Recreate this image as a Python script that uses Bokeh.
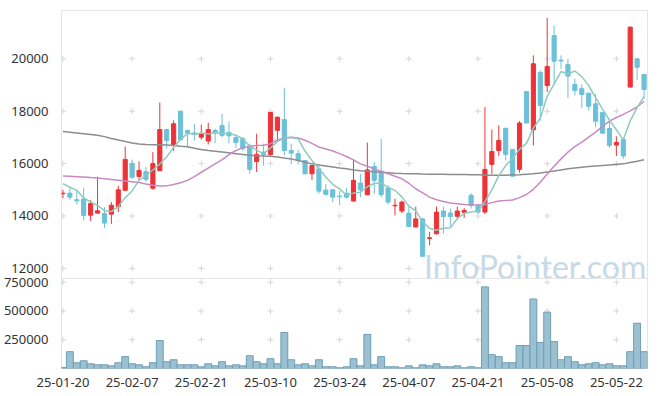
from bokeh.plotting import figure
from bokeh.models import Range1d, FixedTicker, ColumnDataSource, Span
from bokeh.core.properties import value
from bokeh.embed import file_html
from bokeh.resources import INLINE

# ---------------- data ----------------
date_labels = ["25-01-20", "25-02-07", "25-02-21", "25-03-10", "25-03-24",
               "25-04-07", "25-04-21", "25-05-08", "25-05-22"]
label_step = 10  # one label every 10 trading days

opens = [14850, 14870, 14620, 14650, 14030, 14110, 14100, 14070, 14360, 14980,
         16000, 15510, 15690, 15060, 15730, 17300, 16730, 18000, 17260, 17170,
         17010, 16860, 17260, 17450, 17190, 16990, 16960, 16680, 16080, 16440,
         16350, 17270, 17680, 16500, 16380, 16120, 15610, 15800, 14990, 15000,
         14760, 14870, 14570, 15260, 14810, 15890, 15710, 15060, 14390, 14190,
         14110, 13580, 13890, 13140, 13320, 14190, 14110, 13990, 14140, 14790,
         14380, 14150, 15970, 16500, 17350, 16540, 15780, 18750, 17290, 19480,
         18980, 20890, 19950, 19780, 19020, 18860, 18690, 18280, 17950, 17340,
         16710, 16920, 18920, 20000, 19400]
highs = [15000, 15100, 14950, 15080, 14600, 15500, 14330, 14530, 15150, 16650,
         16150, 16080, 15870, 16440, 18330, 17320, 17650, 18020, 17280, 17520,
         17490, 17560, 17330, 17900, 17610, 17070, 17010, 16760, 17140, 16760,
         17960, 17800, 18890, 16760, 16530, 16130, 15940, 15930, 15220, 15010,
         14950, 15070, 16150, 15610, 16800, 16060, 16950, 15170, 14660, 14590,
         14360, 14360, 13930, 13390, 14360, 14360, 14280, 14360, 14310, 14870,
         14460, 18160, 17300, 17460, 17360, 16550, 17620, 18760, 20130, 19560,
         21560, 21270, 20130, 20000, 19240, 19020, 18700, 18660, 17960, 17710,
         17040, 16930, 21220, 20010, 19410]
lows = [14680, 14620, 14440, 13830, 13810, 14080, 13540, 13700, 14150, 14950,
        15420, 15360, 15300, 15000, 15710, 16570, 16480, 16880, 16630, 16880,
        16910, 16730, 16780, 17010, 16780, 16600, 16480, 15610, 15680, 15920,
        16250, 16880, 16310, 15970, 15970, 15600, 15380, 14850, 14780, 14530,
        14400, 14660, 14560, 14720, 14800, 14850, 14720, 14440, 14020, 14110,
        13580, 13570, 12450, 12880, 13300, 13320, 13600, 13890, 13930, 14280,
        14080, 14080, 15610, 16290, 16120, 15510, 15650, 17540, 16690, 17640,
        18730, 19040, 19620, 18510, 18600, 18130, 18030, 17390, 17150, 16600,
        16290, 16180, 18910, 19200, 18470]
closes = [14870, 14720, 14580, 14020, 14480, 14200, 13730, 14410, 15000, 16160,
          15480, 15740, 15400, 16000, 17300, 16880, 17520, 16910, 17170, 17110,
          17140, 17300, 17180, 17080, 17060, 16810, 16580, 15780, 16350, 16350,
          17950, 17770, 16500, 16400, 16120, 15610, 15930, 14950, 14830, 14720,
          14740, 14720, 15360, 15000, 15760, 15360, 14820, 14530, 14410, 14530,
          13600, 13890, 12460, 13170, 14150, 13980, 13980, 14190, 14210, 14400,
          14150, 15780, 16460, 16880, 16350, 15520, 17550, 17550, 19810, 18220,
          19710, 19910, 19920, 19340, 18790, 18640, 18190, 17620, 17160, 16690,
          16810, 16290, 21210, 19680, 18830]
volumes = [10000, 146000, 50000, 67000, 41000, 32000, 32000, 23000, 50000, 103000,
           41000, 32000, 15000, 50000, 243000, 59000, 76000, 32000, 32000, 32000,
           15000, 41000, 23000, 59000, 23000, 32000, 23000, 111000, 59000, 41000,
           85000, 41000, 313000, 76000, 32000, 41000, 23000, 76000, 15000, 15000,
           6000, 15000, 85000, 23000, 296000, 32000, 103000, 15000, 15000, 6000,
           23000, 6000, 32000, 23000, 41000, 15000, 15000, 23000, 6000, 15000,
           6000, 709000, 120000, 103000, 50000, 50000, 199000, 199000, 604000, 226000,
           489000, 234000, 76000, 103000, 59000, 32000, 41000, 50000, 32000, 41000,
           23000, 23000, 146000, 393000, 146000]
ma5 = [15230, 15100, 14980, 14690, 14534, 14400, 14202, 14168, 14364, 14700,
       14956, 15358, 15556, 15756, 15984, 16264, 16620, 16922, 17156, 17118,
       17170, 17126, 17180, 17162, 17152, 17086, 16942, 16662, 16516, 16374,
       16602, 16840, 16984, 16994, 16948, 16480, 16112, 15802, 15488, 15208,
       15034, 14792, 14874, 14908, 15116, 15240, 15260, 15094, 14976, 14730,
       14378, 14192, 13778, 13530, 13454, 13530, 13548, 13894, 14102, 14152,
       14186, 14546, 15000, 15534, 15924, 16198, 16552, 16770, 17356, 17730,
       18568, 19040, 19514, 19420, 19534, 19320, 18976, 18516, 18080, 17660,
       17294, 16914, 17634, 18138, 18566]
ma20 = [15530, 15515, 15500, 15485, 15465, 15450, 15425, 15395, 15365, 15335,
        15310, 15280, 15225, 15170, 15145, 15150, 15200, 15270, 15360, 15500,
        15670, 15830, 15990, 16150, 16340, 16500, 16600, 16660, 16690, 16700,
        16760, 16900, 16980, 17010, 16980, 16890, 16770, 16630, 16560, 16480,
        16380, 16270, 16140, 15990, 15900, 15800, 15710, 15610, 15520, 15420,
        15250, 15040, 14880, 14720, 14620, 14550, 14500, 14470, 14440, 14420,
        14420, 14440, 14510, 14570, 14590, 14610, 14700, 14820, 15020, 15290,
        15600, 15900, 16180, 16440, 16650, 16820, 17010, 17200, 17420, 17620,
        17760, 17880, 18010, 18160, 18380]
ma60 = [17227, 17200, 17170, 17140, 17110, 17080, 17030, 16960, 16900, 16840,
        16790, 16750, 16730, 16720, 16715, 16710, 16690, 16660, 16640, 16590,
        16540, 16500, 16470, 16440, 16410, 16380, 16350, 16320, 16300, 16290,
        16280, 16250, 16210, 16180, 16120, 16050, 15990, 15950, 15910, 15870,
        15830, 15800, 15760, 15730, 15710, 15690, 15670, 15650, 15630, 15620,
        15615, 15610, 15600, 15595, 15590, 15590, 15585, 15580, 15580, 15575,
        15570, 15565, 15560, 15560, 15560, 15565, 15570, 15590, 15610, 15640,
        15680, 15720, 15760, 15800, 15830, 15860, 15885, 15910, 15930, 15950,
        15970, 15990, 16040, 16090, 16146]

price_ticks = [12000, 14000, 16000, 18000, 20000]
vol_ticks = [250000, 500000, 750000]
vol_tick_labels = ["250000", "500000", "750000"]
vol_panel_top = 782000   # value at the top edge of the volume panel

# ---------------- styling ----------------
UP = "#ee3338"
DOWN = "#6cc0d8"
FONT = "Noto Sans"
LABEL_COLOR = "#333333"
FRAME = "#e4e4e4"
CROSS = "#d6d6d6"

n = len(closes)
idx = list(range(n))
x_ticks = [i * label_step for i in range(len(date_labels))]
colors = [UP if c >= o else DOWN for o, c in zip(opens, closes)]
src = ColumnDataSource(dict(
    x=idx, o=opens, h=highs, l=lows, c=closes,
    top=[max(o, c) for o, c in zip(opens, closes)],
    bottom=[min(o, c) for o, c in zip(opens, closes)],
    color=colors, vol=volumes,
))

# one frame holds both panels: price occupies the upper 268 px,
# volume the lower ~90 px of a 358 px tall frame
FRAME_H = 358
VOL_H = 90
xr = Range1d(-0.21, n - 0.5)
yr = Range1d(8179, 21844)
vr_end = vol_panel_top * FRAME_H / VOL_H
vr = Range1d(0, vr_end)

p = figure(width=655, height=10 + FRAME_H + 22, x_range=xr, y_range=yr,
           output_backend="svg", toolbar_location=None,
           min_border_left=54, min_border_right=8, min_border_top=10,
           min_border_bottom=22)
p.extra_y_ranges = {"vol": vr}
p.grid.visible = False
p.outline_line_color = FRAME
p.background_fill_color = "white"
p.border_fill_color = "white"


def vol_to_price(vv):
    return yr.start + vv / vr_end * (yr.end - yr.start)


split = vol_to_price(vol_panel_top)
p.add_layout(Span(location=split, dimension="width", line_color=FRAME,
                  line_width=1))

# grid intersection crosses (price panel and volume panel)
cx = [t for t in x_ticks for _ in price_ticks]
cy = [v for _ in x_ticks for v in price_ticks]
p.scatter(cx, cy, marker="cross", size=6, line_color=CROSS, line_width=1)
vx = [t for t in x_ticks for _ in vol_ticks]
vy = [t for _ in x_ticks for t in vol_ticks]
p.scatter(vx, vy, marker="cross", size=6, line_color=CROSS, line_width=1,
          y_range_name="vol")

# watermark
p.text(x=[52.2], y=[12083],
       text=["InfoPointer.com"], text_font=value("Lato"),
       text_font_size="32px", text_color="#c6dae6", text_align="left",
       text_baseline="alphabetic")

# volume bars
p.vbar(x="x", width=1.0, top="vol", bottom=0, fill_color="#9ac0d1",
       line_color="#6f9fb4", line_width=1, source=src, y_range_name="vol")

# candles
p.segment(x0="x", y0="h", x1="x", y1="l", line_color="color", line_width=1,
          source=src)
p.vbar(x="x", width=0.6, top="top", bottom="bottom", fill_color="color",
       line_color="color", line_width=1, source=src)

# moving averages
p.line(idx, ma60, line_color="#8d8d8d", line_width=1.5)
p.line(idx, ma20, line_color="#c98ac3", line_width=1.5)
p.line(idx, ma5, line_color="#8ccbbd", line_width=1.5)

# left axis carries price ticks and the volume panel's ticks
vol_pos = [round(vol_to_price(t)) for t in vol_ticks]
p.yaxis.ticker = FixedTicker(ticks=price_ticks + vol_pos)
p.yaxis.major_label_overrides = dict(zip(vol_pos, vol_tick_labels))
p.xaxis.ticker = FixedTicker(ticks=x_ticks)
p.xaxis.major_label_overrides = dict(zip(x_ticks, date_labels))
for ax in (p.xaxis, p.yaxis):
    ax.axis_line_color = None
    ax.major_tick_line_color = None
    ax.minor_tick_line_color = None
    ax.major_label_text_font = FONT
    ax.major_label_text_font_size = "13px"
    ax.major_label_text_color = LABEL_COLOR
p.yaxis.major_label_standoff = 7
p.xaxis.major_label_standoff = 3

open("out.html", "w").write(file_html(p, INLINE))
